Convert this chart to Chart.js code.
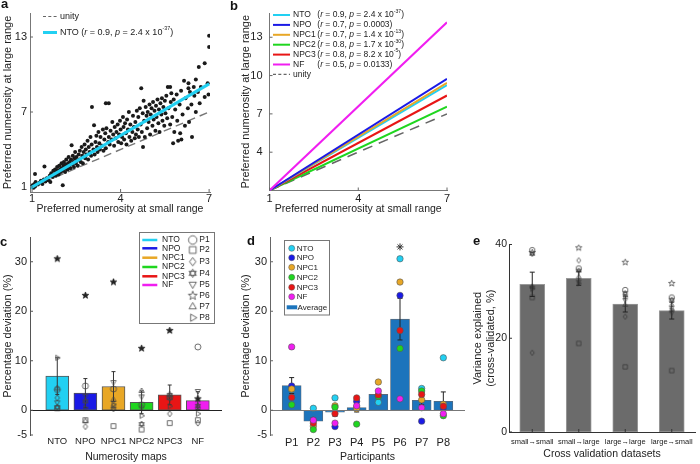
<!DOCTYPE html>
<html><head><meta charset="utf-8">
<script src="https://cdn.jsdelivr.net/npm/chart.js@4.4.1/dist/chart.umd.min.js"></script>
<style>
html,body{margin:0;padding:0;background:#fff;}
#wrap{position:relative;width:700px;height:464px;overflow:hidden;background:#fff;}
canvas{position:absolute;display:block;}
.pl{position:absolute;font:bold 13px/13px 'Liberation Sans',Arial,sans-serif;color:#111;}
</style></head><body><div id="wrap">
<canvas id="ca" width="232" height="216" style="left:0px;top:0px;width:232px;height:216px"></canvas>
<canvas id="cb" width="234" height="216" style="left:234px;top:0px;width:234px;height:216px"></canvas>
<canvas id="cc" width="240" height="234" style="left:0px;top:230px;width:240px;height:234px"></canvas>
<canvas id="cd" width="236" height="234" style="left:234px;top:230px;width:236px;height:234px"></canvas>
<canvas id="ce" width="230" height="232" style="left:470px;top:230px;width:230px;height:232px"></canvas>
<div class="pl" style="left:1px;top:-3px">a</div>
<div class="pl" style="left:230px;top:-1.5px">b</div>
<div class="pl" style="left:0px;top:235px">c</div>
<div class="pl" style="left:247px;top:234px">d</div>
<div class="pl" style="left:473px;top:234px">e</div>
</div>
<script>
// ================= DATA =================
// panel a: preferred numerosity of NTO recording sites (small range vs large range)
const ntoSmall = [
 1.00,1.02,1.05,1.08,1.10,1.12,1.10,1.20,1.25,1.30,1.35,1.40,1.42,1.45,1.50,1.55,1.60,1.62,
 1.65,1.70,1.72,1.75,1.78,1.80,1.82,1.85,1.88,1.90,1.92,1.95,1.97,2.00,2.00,2.04,2.04,2.06,2.08,2.10,2.12,2.14,2.16,2.18,2.20,2.22,2.24,2.26,2.28,2.30,2.32,2.34,2.36,2.38,2.40,2.42,2.44,2.46,2.48,2.50,2.52,2.55,2.58,2.60,
 2.62,2.65,2.68,2.70,2.72,2.75,2.78,2.80,2.82,2.85,2.88,2.90,2.92,2.95,2.98,3.00,3.02,3.03,3.08,3.10,3.12,3.15,3.18,3.20,3.22,3.25,3.28,3.30,3.32,3.50,3.38,3.40,3.42,3.45,3.48,3.50,3.52,3.60,3.58,
 3.60,3.63,3.66,3.70,3.72,3.75,3.78,3.80,3.83,3.86,3.90,3.92,3.95,3.98,4.00,4.02,4.05,4.08,4.10,4.12,4.15,4.18,4.20,4.22,4.25,4.28,4.30,4.33,4.36,4.40,4.42,4.45,4.48,4.50,4.52,4.55,4.58,
 4.60,4.62,4.65,4.68,4.70,4.72,4.75,4.78,4.80,4.76,4.85,4.88,4.90,4.92,4.95,4.98,5.00,5.02,5.05,5.08,5.10,5.12,5.15,5.18,5.20,5.22,5.25,5.28,5.30,5.32,5.35,5.38,5.40,5.42,5.45,5.48,5.50,5.52,5.55,5.58,4.82,5.78,6.06,
 5.60,5.62,5.68,5.68,5.70,5.72,5.75,5.80,5.82,5.85,5.90,5.92,5.95,6.00,6.02,6.05,6.10,6.15,6.18,6.20,6.30,6.28,6.32,6.35,6.40,6.42,6.48,6.50,6.55,6.65,6.62,6.68,6.72,6.85,6.85,6.95,7.00,7.00,6.98,6.55,6.30];
const ntoLarge = [
 1.00,1.15,0.95,1.25,1.05,1.40,2.05,1.20,1.35,1.50,1.25,1.60,2.65,1.45,1.70,1.55,1.90,1.40,
 2.10,1.80,2.30,2.00,2.40,1.90,2.20,2.60,2.30,2.00,2.70,2.40,2.20,2.50,2.90,1.15,2.30,2.70,3.00,2.50,2.20,2.80,3.20,2.60,2.40,2.90,3.40,2.70,3.00,2.50,3.20,4.35,2.80,3.50,3.00,2.60,3.30,3.80,2.90,3.40,3.10,2.70,3.60,3.20,
 3.90,3.00,4.20,3.50,2.90,3.80,4.40,3.30,4.00,3.60,4.70,3.20,4.20,3.80,5.00,3.50,4.40,7.40,4.00,5.95,3.60,4.60,5.10,4.20,3.80,5.40,4.50,4.00,5.00,7.70,4.30,5.60,3.90,4.80,5.30,4.10,5.70,7.70,4.60,
 5.00,4.40,5.50,4.80,6.20,5.20,4.30,5.80,4.90,5.40,6.00,4.60,5.20,6.30,5.60,4.50,5.00,6.60,5.80,4.80,6.10,5.30,4.40,6.40,5.60,7.00,5.00,6.00,4.70,5.40,6.70,5.80,4.90,6.20,5.20,7.10,5.60,
 6.60,5.00,7.30,6.00,8.90,5.40,6.90,7.90,6.30,4.20,7.40,6.70,5.70,7.00,6.20,7.60,5.20,6.80,7.30,5.90,7.80,6.40,7.10,5.50,7.50,6.60,8.00,6.10,7.20,5.40,7.70,6.80,8.10,6.30,7.40,5.90,7.90,6.90,8.30,6.50,5.00,4.50,4.80,
 9.00,7.30,9.00,6.00,7.80,8.50,6.60,8.00,5.40,7.20,8.40,6.30,4.70,7.60,5.30,8.70,6.80,9.50,5.90,8.10,9.30,7.30,6.20,8.60,7.60,5.00,9.00,8.30,7.00,10.60,8.60,7.70,9.00,10.90,8.20,9.30,13.10,12.20,8.40,9.60,8.90];
const ntoFitSmall = [0.95, 7.0];
const ntoFitLarge = [0.93, 9.25];
const unitySmall = [1, 7];
const unityLarge = [1, 7];

// panel b: fitted lines per map, from (1,1) to x = 7
const mapNames = ['NTO', 'NPO', 'NPC1', 'NPC2', 'NPC3', 'NF'];
const fitSmallX = [1, 7];
const fitLargeAt1 = [1, 1, 1, 1, 1, 1];
const fitLargeAt7 = [9.25, 9.74, 9.43, 7.56, 8.44, 14.17];
const mapR = ['0.9', '0.7', '0.7', '0.8', '0.8', '0.5'];
const mapP = ['2.4', '0.0003', '1.4', '1.7', '8.2', '0.0133'];
const mapPExp = ['-37', '', '-13', '-30', '-5', ''];

// panels c & d: percentage deviation, per map, per participant P1..P8
const participants = ['P1', 'P2', 'P3', 'P4', 'P5', 'P6', 'P7', 'P8'];
const devNTO  = [4.2, 0.4, 2.5, 0.6, 1.6, 30.6, 4.4, 10.6];
const devNPO  = [4.9, -2.0, -3.3, 1.8, 2.9, 23.2, -2.2, 0.5];
const devNPC1 = [4.3, -3.2, 0.9, 0.3, 5.7, 25.9, 2.1, 1.2];
const devNPC2 = [1.1, -3.9, 0.6, -2.8, 2.8, 12.5, 3.9, -1.1];
const devNPC3 = [2.6, -2.6, -0.7, 2.5, 3.1, 16.1, 3.2, 0.8];
const devNF   = [12.8, -2.0, -2.6, 0.9, 3.9, 2.3, 0.5, -0.7];
const mapMeanDev = [6.9, 3.45, 4.8, 1.6, 3.1, 1.95];
const mapSemDev  = [3.7, 2.95, 3.0, 2.3, 2.0, 1.8];
const partMeanDev = [5.0, -2.2, -0.4, 0.55, 3.2, 18.4, 2.0, 1.8];
const partSemDev  = [1.6, 0.6, 0.8, 0.9, 0.7, 4.2, 0.9, 1.9];
const sigParticipant = [6];
const sigLevel = [33];

// panel e: cross-validated variance explained
const cvLabels = ['small\u2192small', 'small\u2192large', 'large\u2192large', 'large\u2192small'];
const cvMean = [31.5, 32.8, 27.3, 25.9];
const cvSem  = [2.6, 1.5, 1.7, 1.8];
const cvP1 = [38.8, 34.9, 30.3, 28.7];
const cvP2 = [28.7, 18.9, 13.9, 13.1];
const cvP3 = [16.9, 36.6, 24.6, 26.4];
const cvP4 = [38.0, 34.4, 29.6, 28.2];
const cvP5 = [30.8, 32.1, 28.2, 25.5];
const cvP6 = [38.3, 39.3, 36.2, 31.7];
const cvP7 = [31.0, 33.1, 27.1, 27.1];
const cvP8 = [30.5, 31.7, 28.9, 26.0];

// ================= STYLE =================
const FONT = "'Liberation Sans', Arial, Helvetica, sans-serif";
const mapColors = ['#22d0f2', '#1a1ae6', '#e8a726', '#1fd61f', '#e81515', '#f01ef0'];
const partShapes = ['circle', 'square', 'diamond', 'hexagram', 'down', 'star', 'up', 'right'];
const devByMap = [devNTO, devNPO, devNPC1, devNPC2, devNPC3, devNF];
const cvByPart = [cvP1, cvP2, cvP3, cvP4, cvP5, cvP6, cvP7, cvP8];

Chart.defaults.font.family = FONT;
Chart.defaults.color = '#222';
Chart.defaults.animation = false;
Chart.defaults.responsive = false;
Chart.defaults.maintainAspectRatio = false;
Chart.defaults.plugins.legend.display = false;
Chart.defaults.plugins.tooltip.enabled = false;
Chart.defaults.events = [];

function makeMarker(shape, r, stroke, fill, lw) {
  const size = Math.ceil(2 * r + 4);
  const cv = document.createElement('canvas');
  cv.width = size; cv.height = size;
  const c = cv.getContext('2d');
  const cx = size / 2, cy = size / 2;
  c.lineWidth = lw; c.strokeStyle = stroke;
  const poly = pts => { c.moveTo(cx + pts[0][0], cy + pts[0][1]); for (let i = 1; i < pts.length; i++) c.lineTo(cx + pts[i][0], cy + pts[i][1]); c.closePath(); };
  const tri = a => { const p = []; for (let k = 0; k < 3; k++) { const t = a + k * 2 * Math.PI / 3; p.push([r * Math.cos(t), r * Math.sin(t)]); } return p; };
  c.beginPath();
  if (shape === 'circle') c.arc(cx, cy, r, 0, 2 * Math.PI);
  else if (shape === 'square') c.rect(cx - r * 0.8, cy - r * 0.8, r * 1.6, r * 1.6);
  else if (shape === 'diamond') poly([[0, -r], [r * 0.75, 0], [0, r], [-r * 0.75, 0]]);
  else if (shape === 'up') poly(tri(-Math.PI / 2));
  else if (shape === 'down') poly(tri(Math.PI / 2));
  else if (shape === 'right') poly(tri(0));
  else if (shape === 'hexagram') { poly(tri(-Math.PI / 2)); poly(tri(Math.PI / 2)); }
  else if (shape === 'star') { const p = []; for (let k = 0; k < 10; k++) { const t = -Math.PI / 2 + k * Math.PI / 5; const rr = k % 2 ? r * 0.42 : r; p.push([rr * Math.cos(t), rr * Math.sin(t)]); } poly(p); }
  if (fill) { c.fillStyle = fill; c.fill(); }
  c.stroke();
  return cv;
}
const cMarkers = partShapes.map(s => s === 'star' ? makeMarker('star', 3.5, '#222', '#222', 0.8) : makeMarker(s, 3.0, '#444', null, 0.8));
const cLegendMarkers = partShapes.map(s => makeMarker(s, s === 'star' ? 4.6 : 4.2, '#444', null, 0.8));
const eMarkers = partShapes.map(s => makeMarker(s, s === 'star' ? 3.3 : 2.7, '#333', null, 0.7));

function richParts(r, p, e) {
  const parts = [{t: '('}, {t: 'r', it: true}, {t: ' = ' + r + ', '}, {t: 'p', it: true}, {t: ' = ' + p + (e ? ' x 10' : '')}];
  if (e) parts.push({t: e, sup: true});
  parts.push({t: ')'});
  return parts;
}
function drawRich(ctx, x, y, parts, size) {
  ctx.fillStyle = '#222'; ctx.textBaseline = 'middle'; ctx.textAlign = 'left';
  for (const p of parts) {
    const fs = p.sup ? size * 0.6 : size;
    ctx.font = (p.it ? 'italic ' : '') + fs + 'px ' + FONT;
    ctx.fillText(p.t, x, p.sup ? y - size * 0.42 : y);
    x += ctx.measureText(p.t).width;
  }
  return x;
}

function axis(o) {
  return {
    type: 'linear', min: o.min, max: o.max, offset: false,
    afterBuildTicks: s => { s.ticks = o.ticks.map(v => ({value: v})); },
    afterFit: s => {
      if (o.w != null) s.width = o.w;
      if (o.h != null) s.height = o.h;
      s.paddingLeft = 0; s.paddingRight = 0; s.paddingTop = 0; s.paddingBottom = 0;
    },
    grid: {display: false, drawTicks: false},
    border: {display: o.border !== false, color: o.bc || '#777', width: 1},
    ticks: {autoSkip: false, maxRotation: 0, minRotation: 0, padding: o.tp, color: '#222',
      font: {size: o.tf}, callback: o.labels ? (v => o.labels[Math.round(v) - 1]) : (v => String(v))},
    title: {display: !!o.title, text: o.title, color: '#222', font: {size: o.ttf, lineHeight: 1.2}, padding: o.tpad || 0}
  };
}

const inTicks = {
  id: 'inTicks',
  afterDraw(chart, args, opts) {
    const ctx = chart.ctx, ca = chart.chartArea;
    ctx.save(); ctx.strokeStyle = opts.color || '#666'; ctx.lineWidth = 1;
    (opts.axes || []).forEach(id => {
      const s = chart.scales[id];
      s.ticks.forEach(t => {
        const p = s.getPixelForValue(t.value);
        ctx.beginPath();
        if (s.isHorizontal()) { ctx.moveTo(p, ca.bottom); ctx.lineTo(p, ca.bottom - 3); }
        else { ctx.moveTo(ca.left, p); ctx.lineTo(ca.left + 3, p); }
        ctx.stroke();
      });
    });
    ctx.restore();
  }
};
const errBars = {
  id: 'errBars',
  afterDatasetDraw(chart, args, opts) {
    if (args.index !== opts.dataset) return;
    const ys = chart.scales.y, ctx = chart.ctx;
    const ds = chart.data.datasets[args.index];
    ctx.save(); ctx.strokeStyle = opts.color || '#222'; ctx.lineWidth = 1;
    args.meta.data.forEach((el, i) => {
      const v = ds.data[i].y, e = opts.errors[i];
      const y1 = ys.getPixelForValue(v - e), y2 = ys.getPixelForValue(v + e);
      const c = opts.cap || 0;
      ctx.beginPath();
      ctx.moveTo(el.x, y1); ctx.lineTo(el.x, y2);
      if (c) { ctx.moveTo(el.x - c, y1); ctx.lineTo(el.x + c, y1); ctx.moveTo(el.x - c, y2); ctx.lineTo(el.x + c, y2); }
      ctx.stroke();
    });
    ctx.restore();
  }
};
const zeroLine = {
  id: 'zeroLine',
  afterDatasetsDraw(chart, args, opts) {
    const ctx = chart.ctx, ca = chart.chartArea;
    const y = Math.round(chart.scales.y.getPixelForValue(0)) + 0.5;
    ctx.save(); ctx.strokeStyle = opts.color || '#333'; ctx.lineWidth = 1;
    ctx.beginPath(); ctx.moveTo(ca.left, y); ctx.lineTo(ca.right, y); ctx.stroke();
    ctx.restore();
  }
};

// ================= PANEL A =================
const legendA = {
  id: 'legendA',
  afterDraw(chart) {
    const ctx = chart.ctx; ctx.save();
    ctx.lineWidth = 1.2; ctx.strokeStyle = '#666'; ctx.setLineDash([3, 2.3]);
    ctx.beginPath(); ctx.moveTo(43, 16.5); ctx.lineTo(57, 16.5); ctx.stroke();
    ctx.setLineDash([]);
    ctx.lineWidth = 3; ctx.strokeStyle = mapColors[0];
    ctx.beginPath(); ctx.moveTo(43, 32.5); ctx.lineTo(57, 32.5); ctx.stroke();
    drawRich(ctx, 60, 16.5, [{t: 'unity'}], 9);
    drawRich(ctx, 60, 32.5, [{t: mapNames[0] + ' '}].concat(richParts(mapR[0], mapP[0], mapPExp[0])), 9);
    ctx.restore();
  }
};
new Chart(document.getElementById('ca'), {
  type: 'scatter',
  data: {datasets: [
    {data: unitySmall.map((x, i) => ({x, y: unityLarge[i]})), showLine: true, borderColor: '#777', borderDash: [8, 5], borderWidth: 1.4, pointRadius: 0, order: 3},
    {data: ntoSmall.map((x, i) => ({x, y: ntoLarge[i]})), pointRadius: 2, pointBackgroundColor: '#1a1a1a', pointBorderWidth: 0, order: 2},
    {data: ntoFitSmall.map((x, i) => ({x, y: ntoFitLarge[i]})), showLine: true, borderColor: mapColors[0], borderWidth: 3, pointRadius: 0, order: 1}
  ]},
  options: {
    layout: {padding: {top: 13, right: 22, left: 0, bottom: 0}},
    scales: {
      x: axis({min: 0.93, max: 7.03, ticks: [1, 4, 7], h: 24, tp: 0, tf: 11, title: 'Preferred numerosity at small range', ttf: 10.5, tpad: {top: 0, bottom: 0.5}}),
      y: axis({min: 0.6, max: 14.92, ticks: [1, 7, 13], w: 30, tp: 3, tf: 11, title: 'Preferred numerosity at large range', ttf: 11, tpad: {top: 1.4, bottom: 0}})
    },
    plugins: {inTicks: {axes: ['x', 'y']}}
  },
  plugins: [inTicks, legendA]
});

// ================= PANEL B =================
const legendB = {
  id: 'legendB',
  afterDraw(chart) {
    const ctx = chart.ctx; ctx.save();
    const rows = [15, 24.9, 34.8, 44.7, 54.6, 64.5, 74.4];
    mapNames.forEach((n, i) => {
      ctx.strokeStyle = mapColors[i]; ctx.lineWidth = 2;
      ctx.beginPath(); ctx.moveTo(39, rows[i]); ctx.lineTo(56, rows[i]); ctx.stroke();
      drawRich(ctx, 59, rows[i], [{t: n}], 8.5);
      drawRich(ctx, 83.3, rows[i], richParts(mapR[i], mapP[i], mapPExp[i]), 8.5);
    });
    ctx.strokeStyle = '#666'; ctx.lineWidth = 1.2; ctx.setLineDash([3, 2.3]);
    ctx.beginPath(); ctx.moveTo(39, rows[6]); ctx.lineTo(56, rows[6]); ctx.stroke();
    ctx.setLineDash([]);
    drawRich(ctx, 59, rows[6], [{t: 'unity'}], 8.5);
    ctx.restore();
  }
};
const bOrder = [4, 2, 3, 6, 5, 1];
new Chart(document.getElementById('cb'), {
  type: 'scatter',
  data: {datasets: [
    {data: unitySmall.map((x, i) => ({x, y: unityLarge[i]})), showLine: true, borderColor: '#666', borderDash: [10, 7], borderWidth: 1.6, pointRadius: 0, order: 7}
  ].concat(mapNames.map((n, i) => ({
    data: fitSmallX.map((x, k) => ({x, y: k === 0 ? fitLargeAt1[i] : fitLargeAt7[i]})),
    showLine: true, borderColor: mapColors[i], borderWidth: 2, pointRadius: 0, order: bOrder[i]
  })))},
  options: {
    layout: {padding: {top: 13, right: 21, left: 0, bottom: 0}},
    scales: {
      x: axis({min: 1, max: 7, ticks: [1, 4, 7], h: 25.5, tp: 1.5, tf: 11, title: 'Preferred numerosity at small range', ttf: 10.5, tpad: {top: 0, bottom: 0.5}}),
      y: axis({min: 1, max: 14.9, ticks: [4, 7, 10, 13], w: 35.5, tp: 7, tf: 11, title: 'Preferred numerosity at large range', ttf: 11, tpad: {top: 5.2, bottom: 0}})
    },
    plugins: {inTicks: {axes: ['x', 'y']}}
  },
  plugins: [inTicks, legendB]
});

// ================= PANEL C =================
const legendC = {
  id: 'legendC',
  afterDraw(chart) {
    const ctx = chart.ctx; ctx.save();
    ctx.fillStyle = '#fff'; ctx.strokeStyle = '#777'; ctx.lineWidth = 1;
    ctx.fillRect(139.5, 2.5, 75, 91); ctx.strokeRect(139.5, 2.5, 75, 91);
    const rowsM = [10, 18.3, 27.7, 37, 46.3, 55];
    mapNames.forEach((n, i) => {
      ctx.strokeStyle = mapColors[i]; ctx.lineWidth = 2.5;
      ctx.beginPath(); ctx.moveTo(142.3, rowsM[i]); ctx.lineTo(157.3, rowsM[i]); ctx.stroke();
      drawRich(ctx, 162, rowsM[i], [{t: n}], 8.5);
    });
    const rowsP = [10, 20, 31.7, 43.3, 54.3, 65.7, 76.7, 87.7];
    participants.forEach((p, j) => {
      const m = cLegendMarkers[j];
      ctx.drawImage(m, 192.7 - m.width / 2, rowsP[j] - m.height / 2);
      drawRich(ctx, 199.3, rowsP[j], [{t: p}], 8.5);
    });
    ctx.restore();
  }
};
new Chart(document.getElementById('cc'), {
  type: 'bar',
  data: {datasets: [
    {type: 'bar', data: mapNames.map((n, i) => ({x: i + 1, y: mapMeanDev[i]})), backgroundColor: mapColors, borderColor: '#555', borderWidth: 1, borderSkipped: false, barThickness: 23, order: 20}
  ].concat(participants.map((p, j) => ({
    type: 'scatter', data: mapNames.map((n, i) => ({x: i + 1, y: devByMap[i][j]})),
    pointStyle: cMarkers[j], pointRadius: 3, order: 1
  })))},
  options: {
    layout: {padding: {top: 7, right: 18, left: 0, bottom: 0}},
    scales: {
      x: axis({min: 0.03, max: 6.86, ticks: [1, 2, 3, 4, 5, 6], labels: mapNames, h: 29, tp: 1, tf: 9.5, border: false, title: 'Numerosity maps', ttf: 10.5, tpad: {top: 0, bottom: 0.8}}),
      y: axis({min: -5, max: 35, ticks: [-5, 0, 10, 20, 30], w: 30, tp: 3, tf: 11, bc: '#555', title: 'Percentage deviation (%)', ttf: 11, tpad: {top: 1.6, bottom: 0}})
    },
    plugins: {inTicks: {axes: ['y'], color: '#555'}, errBars: {dataset: 0, errors: mapSemDev, cap: 2, color: '#333'}, zeroLine: {color: '#222'}}
  },
  plugins: [zeroLine, errBars, inTicks, legendC]
});

// ================= PANEL D =================
const legendD = {
  id: 'legendD',
  afterDraw(chart) {
    const ctx = chart.ctx; ctx.save();
    ctx.fillStyle = '#fff'; ctx.strokeStyle = '#777'; ctx.lineWidth = 1;
    ctx.fillRect(50.5, 10.5, 45, 74.5); ctx.strokeRect(50.5, 10.5, 45, 74.5);
    const rows = [18.3, 27.7, 37.3, 47.3, 57.3, 66.7, 77.3];
    mapNames.forEach((n, i) => {
      ctx.beginPath(); ctx.arc(57.7, rows[i], 3, 0, 2 * Math.PI);
      ctx.fillStyle = mapColors[i]; ctx.fill();
      ctx.strokeStyle = '#555'; ctx.lineWidth = 0.5; ctx.stroke();
      drawRich(ctx, 62.7, rows[i], [{t: n}], 8);
    });
    ctx.fillStyle = '#1c74bc';
    ctx.fillRect(52.7, rows[6] - 2, 10.5, 4);
    drawRich(ctx, 63.5, rows[6], [{t: 'Average'}], 8);
    ctx.restore();
  }
};
new Chart(document.getElementById('cd'), {
  type: 'bar',
  data: {datasets: [
    {type: 'bar', data: participants.map((p, j) => ({x: j + 1, y: partMeanDev[j]})), backgroundColor: '#1c74bc', borderColor: '#5a6a7a', borderWidth: 0.8, borderSkipped: false, barThickness: 19, order: 20}
  ].concat(mapNames.map((n, i) => ({
    type: 'scatter', data: participants.map((p, j) => ({x: j + 1, y: devByMap[i][j]})),
    pointRadius: 3.2, pointBackgroundColor: mapColors[i], pointBorderColor: '#555', pointBorderWidth: 0.6, order: 6 - i
  }))).concat([{
    type: 'scatter', data: sigParticipant.map((x, k) => ({x, y: sigLevel[k]})),
    pointStyle: 'star', pointRadius: 3.5, pointBorderColor: '#333', pointBorderWidth: 1, order: 0
  }])},
  options: {
    layout: {padding: {top: 7, right: 0, left: 0, bottom: 0}},
    scales: {
      x: axis({min: 0, max: 9, ticks: [1, 2, 3, 4, 5, 6, 7, 8], labels: participants, h: 29, tp: 1, tf: 11, border: false, title: 'Participants', ttf: 10.5, tpad: {top: 0, bottom: 0.3}}),
      y: axis({min: -5, max: 35, ticks: [-5, 0, 10, 20, 30], w: 36, tp: 3, tf: 11, bc: '#666', title: 'Percentage deviation (%)', ttf: 11, tpad: {top: 5.2, bottom: 0}})
    },
    plugins: {inTicks: {axes: ['y'], color: '#666'}, errBars: {dataset: 0, errors: partSemDev, cap: 2.5, color: '#222'}, zeroLine: {color: '#777'}}
  },
  plugins: [zeroLine, errBars, inTicks, legendD]
});

// ================= PANEL E =================
new Chart(document.getElementById('ce'), {
  type: 'bar',
  data: {datasets: [
    {type: 'bar', data: cvLabels.map((l, i) => ({x: i + 1, y: cvMean[i]})), backgroundColor: '#6b6b6b', borderColor: '#999', borderWidth: 1, borderSkipped: false, barThickness: 25, order: 20}
  ].concat(participants.map((p, j) => ({
    type: 'scatter', data: cvLabels.map((l, i) => ({x: i + 1, y: cvByPart[j][i]})),
    pointStyle: eMarkers[j], pointRadius: 3, order: 1
  })))},
  options: {
    layout: {padding: {top: 14.5, right: 0.5, left: 0, bottom: 0}},
    scales: {
      x: axis({min: 0.5, max: 4.5, ticks: [1, 2, 3, 4], labels: cvLabels, h: 30, tp: 5, tf: 7.5, bc: '#333', title: 'Cross validation datasets', ttf: 10.5, tpad: {top: 0, bottom: 1.4}}),
      y: axis({min: 0, max: 40, ticks: [0, 20, 40], w: 39, tp: 2, tf: 10.5, bc: '#333', title: ['Variance explained', '(cross-validated, %)'], ttf: 11, tpad: {top: 1.4, bottom: 0}})
    },
    plugins: {inTicks: {axes: ['x', 'y'], color: '#333'}, errBars: {dataset: 0, errors: cvSem, cap: 2.5, color: '#222'}}
  },
  plugins: [errBars, inTicks]
});
</script>
</body></html>
